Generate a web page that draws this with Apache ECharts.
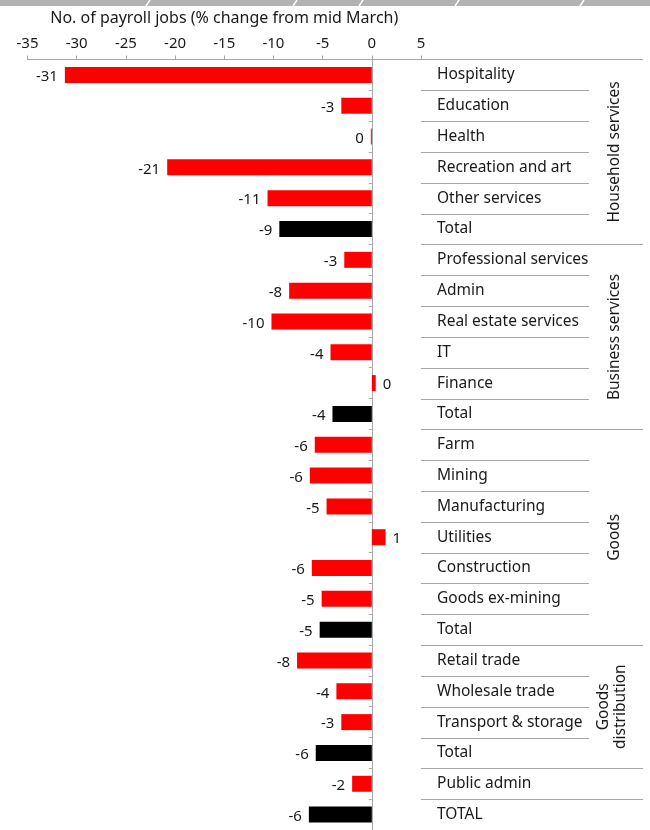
<!DOCTYPE html>
<html>
<head>
<meta charset="utf-8">
<script src="https://cdn.jsdelivr.net/npm/echarts@6/dist/echarts.min.js"></script>
<style>
  html, body { margin: 0; padding: 0; background: #ffffff; }
  #chart { width: 650px; height: 830px; }
</style>
</head>
<body>
<div id="chart"></div>
<script>
// Payroll jobs by industry, % change since mid March
const categories = [
  'Hospitality', 'Education', 'Health', 'Recreation and art', 'Other services', 'Total',
  'Professional services', 'Admin', 'Real estate services', 'IT', 'Finance', 'Total',
  'Farm', 'Mining', 'Manufacturing', 'Utilities', 'Construction', 'Goods ex-mining', 'Total',
  'Retail trade', 'Wholesale trade', 'Transport & storage', 'Total',
  'Public admin', 'TOTAL'
];
const values = [
  -31.2, -3.1, -0.1, -20.8, -10.6, -9.4,
  -2.8, -8.4, -10.2, -4.2, 0.4, -4.0,
  -5.8, -6.3, -4.6, 1.4, -6.1, -5.1, -5.3,
  -7.6, -3.6, -3.1, -5.7,
  -2.0, -6.4
];
// rows drawn as black "total" bars
const totalRows = [5, 11, 18, 22, 24];
// industry groups (first and last row index)
const groupNames = ['Household services', 'Business services', 'Goods', 'Goods\ndistribution'];
const groupFirst = [0, 6, 12, 19];
const groupLast = [5, 11, 18, 22];
const xTicks = { min: -35, max: 5, step: 5 };

const FONT = '"Noto Sans", "Open Sans", sans-serif';
const GRID_LINE = '#a6a6a6';
const TEXT = '#1a1a1a';

const chart = echarts.init(document.getElementById('chart'), null, { renderer: 'canvas' });

const seriesData = values.map((v, i) => ({
  value: v,
  itemStyle: { color: totalRows.includes(i) ? '#000000' : '#ff0000' },
  label: { position: v < 0 ? 'left' : 'right' }
}));

chart.setOption({
  animation: false,
  backgroundColor: '#ffffff',
  grid: { left: 27.5, right: 229, top: 59.5, height: 776, containLabel: false },
  xAxis: {
    type: 'value',
    position: 'top',
    min: xTicks.min,
    max: xTicks.max,
    interval: xTicks.step,
    name: 'No. of payroll jobs (% change from mid March)',
    nameLocation: 'middle',
    nameGap: 33,
    nameTextStyle: { fontFamily: FONT, fontSize: 16, color: TEXT },
    axisLine: { show: true, onZero: false, lineStyle: { color: GRID_LINE, width: 1 } },
    axisTick: { show: true, length: 4, lineStyle: { color: GRID_LINE } },
    axisLabel: { margin: 8, fontFamily: FONT, fontSize: 15, color: TEXT },
    splitLine: { show: false }
  },
  yAxis: [
    {
      type: 'category',
      inverse: true,
      data: categories,
      axisLine: { show: true, onZero: true, lineStyle: { color: GRID_LINE, width: 1 } },
      axisTick: { show: true, length: 3, lineStyle: { color: GRID_LINE } },
      axisLabel: { show: false },
      splitLine: { show: false }
    },
    {
      type: 'category',
      inverse: true,
      position: 'right',
      data: categories,
      axisLine: { show: false },
      axisTick: { show: false },
      axisLabel: {
        show: true, margin: 16, fontFamily: FONT, fontSize: 15.5, color: TEXT,
        align: 'left', padding: [4, 0, 0, 0]
      },
      splitLine: { show: false }
    }
  ],
  series: [{
    type: 'bar',
    yAxisIndex: 0,
    data: seriesData,
    barWidth: 16,
    label: {
      show: true,
      distance: 7,
      offset: [0, 2],
      fontFamily: FONT,
      fontSize: 15,
      color: TEXT,
      formatter: p => String(Math.round(p.value) + 0)
    }
  }]
});

// Row separators, group brackets and group titles beside the category names
function drawDecorations() {
  const xRight = chart.convertToPixel({ xAxisIndex: 0 }, xTicks.max);
  // category names repeat ("Total"), so rows are addressed by index
  const yAt = i => chart.convertToPixel({ yAxisIndex: 0 }, i);
  const band = yAt(1) - yAt(0);
  const topY = yAt(0) - band / 2;
  const shortEnd = 589;
  const longEnd = 643;
  const els = [];

  // grey header strip
  els.push({ type: 'rect', shape: { x: 0, y: 0, width: 650, height: 6 }, style: { fill: '#b2b2b2' }, silent: true });
  [146, 293, 359, 455, 580].forEach(x => {
    els.push({ type: 'line', shape: { x1: x, y1: 6, x2: x + 4, y2: 0 }, style: { stroke: '#ffffff', lineWidth: 1.5 }, silent: true });
  });

  // top rule continuing the axis line across the label area
  els.push({ type: 'line', shape: { x1: xRight, y1: Math.round(topY) + 0.5, x2: longEnd, y2: Math.round(topY) + 0.5 }, style: { stroke: GRID_LINE, lineWidth: 1 }, silent: true });

  categories.forEach((c, i) => {
    const y = Math.round(yAt(i) + band / 2) + 0.5;
    const inGroup = groupFirst.some((f, g) => i >= f && i < groupLast[g]);
    els.push({
      type: 'line',
      shape: { x1: xRight, y1: y, x2: inGroup ? shortEnd : longEnd, y2: y },
      style: { stroke: GRID_LINE, lineWidth: 1 },
      silent: true
    });
  });

  groupNames.forEach((name, g) => {
    const yc = (yAt(groupFirst[g]) + yAt(groupLast[g])) / 2;
    const twoLines = name.indexOf('\n') >= 0;
    els.push({
      type: 'text',
      x: twoLines ? 612 : 615,
      y: yc,
      rotation: Math.PI / 2,
      style: {
        text: name,
        fontFamily: FONT,
        fontSize: 15.5,
        fill: TEXT,
        align: 'center',
        verticalAlign: 'middle',
        lineHeight: 17
      },
      silent: true
    });
  });

  chart.setOption({ graphic: { elements: els } });
}
drawDecorations();
</script>
</body>
</html>
